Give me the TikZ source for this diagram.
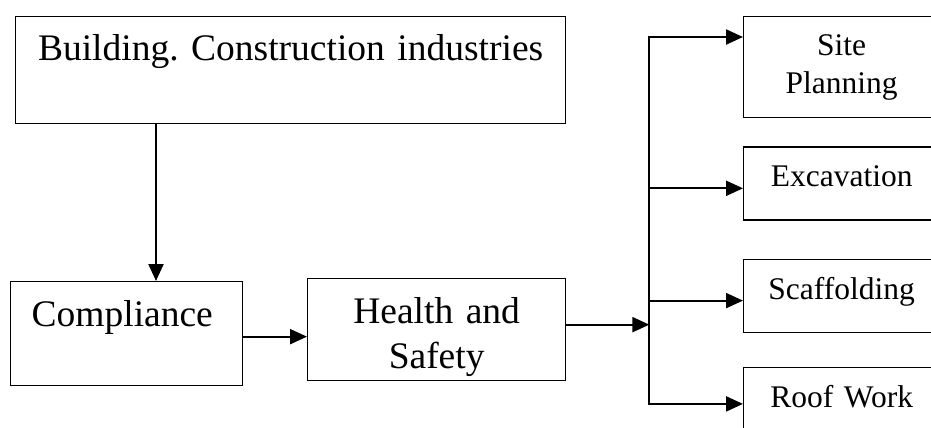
\documentclass[tikz,border=0pt]{standalone}
\usepackage{fontspec}
\setmainfont{Liberation Serif}
\usetikzlibrary{arrows.meta,positioning}
\frenchspacing

\begin{document}
\begin{tikzpicture}[
  x=1pt, y=-1pt,
  box/.style={draw,line width=1.3pt,inner sep=0pt,anchor=north west,align=center,
    font=\fontsize{37.5}{45}\selectfont},
  sub/.style={box,font=\fontsize{31.5}{37.5}\selectfont,text width=196pt,
    text height=40pt,text depth=33pt},
  arr/.style={->,line width=2.2pt},
  >={Triangle[length=17pt,width=15pt]},
  node distance=28pt
]
\clip (0,0) rectangle (931,428);
\node[box,text width=550pt,text height=44pt,text depth=63pt] (bldg) at (15,16) {Building. Construction industries};
\node[box,align=left,text width=232pt,text height=45pt,text depth=59pt] (comp) at (10,281) {\hspace*{21pt}Compliance};
\node[box,text width=258pt,text height=45pt,text depth=57pt] (hs) at (307,278) {Health and\\Safety};
\node[sub,text height=39pt,text depth=62pt] (site) at (743,16) {Site\\Planning};
\node[sub,below=28pt of site] (exc) {Excavation};
\node[sub,below=38pt of exc] (scaf) {Scaffolding};
\node[sub,below=34pt of scaf] (roof) {Roof Work};

\coordinate (drop) at ([xshift=141pt]bldg.south west);
\draw[arr] (drop) -- (drop |- comp.north);
\draw[arr] ([yshift=-3pt]comp.east) -- ([yshift=-3pt]comp.east -| hs.west);

% fork on the right
\coordinate (fork) at ([xshift=83pt,yshift=5pt]hs.east);
\coordinate (b1) at ([yshift=-21pt]site.north west);
\coordinate (b2) at ([yshift=-42pt]exc.north west);
\coordinate (b3) at ([yshift=-42pt]scaf.north west);
\coordinate (b4) at ([yshift=-37pt]roof.north west);
\draw[arr] ([yshift=5pt]hs.east) -- (fork);
\draw[arr] (fork) |- (b1);
\draw[arr] (fork) |- (b4);
\draw[arr] (b2 -| fork) -- (b2);
\draw[arr] (b3 -| fork) -- (b3);
\end{tikzpicture}
\end{document}
